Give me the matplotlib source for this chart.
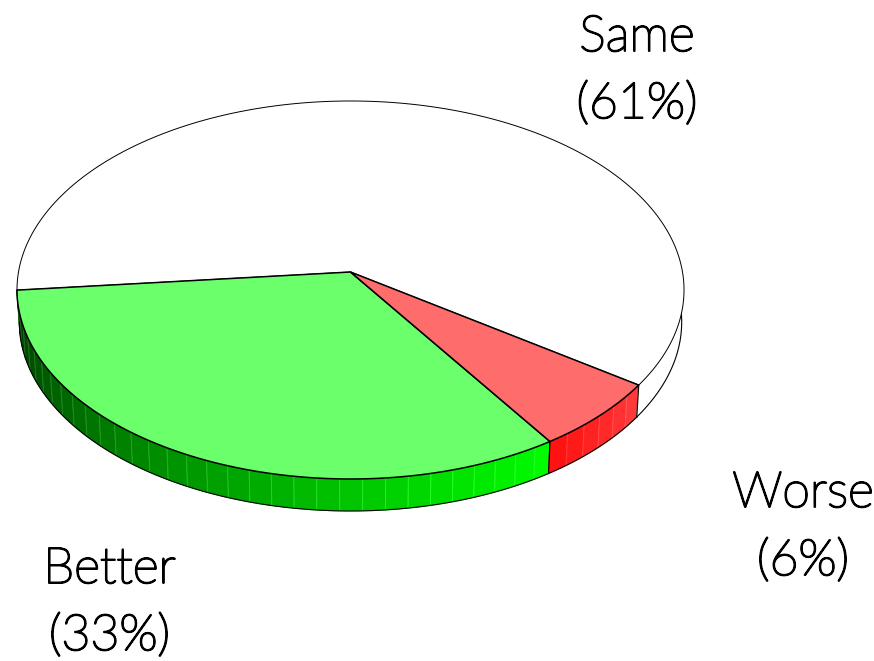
import numpy as np
import matplotlib
matplotlib.use("Agg")
import matplotlib.pyplot as plt
from matplotlib import font_manager as fm
from matplotlib import patheffects as pe
from matplotlib.patches import Polygon

categories = ["Better", "Worse", "Same"]
shares = [32.8, 6.0, 61.2]
share_labels = ["(33%)", "(6%)", "(61%)"]
top_colors = ["#6cff6c", "#ff6c6c", "#ffffff"]

light_ok = [f.name for f in fm.fontManager.ttflist if f.name == "Lato" and f.weight in ("light", 300)]

# pie geometry (pixel units on a y-down canvas)
CX, CY = 350.5, 290.0
A0, B0, K, OFF = 332.0, 189.0, 0.0952, 18.0
DEPTH, SHRINK = 32.0, 0.993
START = 185.5
STEP = 3.6


def rim(deg, lower=False):
    t = np.radians(deg)
    u, v = np.cos(t), np.sin(t)
    den = 1 + K * v
    x = A0 * u / den
    y = (OFF + B0 * v) / den
    if lower:
        return CX + x * SHRINK, CY - y + DEPTH
    return CX + x, CY - y


def hub():
    return CX, CY - OFF


def arc_pts(a, b, lower=False):
    n = max(int(abs(b - a) * 2), 2)
    x, y = rim(np.linspace(a, b, n), lower)
    return np.column_stack([x, y])


def wall_color(i, deg):
    f = np.clip((deg - 185.0) / (304.0 - 185.0), 0, 1)
    level = 0.20 + 0.80 * f
    if i == 0:
        return (0, level, 0)
    if i == 1:
        w = np.clip((deg - 304.0) / 120.0, 0, 0.2) + 0.06
        return (1, w, w)
    return (1, 1, 1)


fig = plt.figure(figsize=(8.74, 6.61), dpi=100)
ax = fig.add_axes([0, 0, 1, 1])
ax.set_xlim(0, 874)
ax.set_ylim(661, 0)
ax.axis("off")

angles = START + np.cumsum([0] + shares) * 3.6

# walls
for i in range(3):
    a, b = angles[i], angles[i + 1]
    if i == 2:
        b = min(b, 372.0)
    edges = np.arange(a, b + 1e-6, STEP)
    if edges[-1] < b:
        edges = np.append(edges, b)
    for e0, e1 in zip(edges[:-1], edges[1:]):
        c = wall_color(i, (e0 + e1) / 2)
        poly = np.vstack([arc_pts(e0, e1), arc_pts(e1, e0, True)])
        light = tuple(min(1, x + 0.12) for x in c)
        ax.add_patch(Polygon(poly, closed=True, fc=c, ec=light, lw=0.7, zorder=1))
    low = arc_pts(a, b, True)
    ax.plot(low[:, 0], low[:, 1], color="black", lw=0.8, zorder=2)

# vertical edges at slice boundaries on the front wall
for d in angles[1:3]:
    p = arc_pts(d, d + 0.001)[0]
    q = arc_pts(d, d + 0.001, True)[0]
    ax.plot([p[0], q[0]], [p[1], q[1]], color="black", lw=0.9, zorder=2)

# top faces, Same first
hx, hy = hub()
for i in [2, 0, 1]:
    poly = np.vstack([[hx, hy], arc_pts(angles[i], angles[i + 1])])
    ax.add_patch(Polygon(poly, closed=True, fc=top_colors[i], ec="black",
                         lw=0.7 if i == 2 else 1.1, joinstyle="miter", zorder=3))

# labels
label_pos = {"Same": (637, 51, 118), "Worse": (803, 507, 575), "Better": (109.5, 583, 650)}
effects = [pe.withStroke(linewidth=1.4, foreground="black")]
for name, lab in zip(categories, share_labels):
    x, y1, y2 = label_pos[name]
    kw = dict(ha="center", va="baseline", fontsize=36, family="Lato",
              weight="light" if light_ok else "normal", color="black", zorder=5,
              path_effects=effects)
    ax.text(x, y1, name, **kw)
    ax.text(x, y2, lab, **kw)

fig.savefig("out.png", dpi=100)
